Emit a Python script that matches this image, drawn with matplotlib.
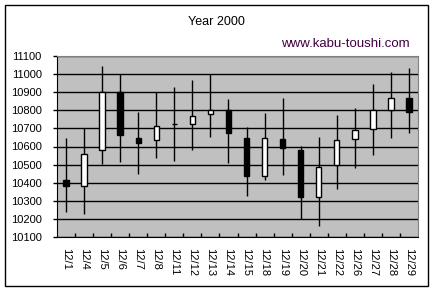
import numpy as np
import matplotlib.pyplot as plt
from matplotlib.patches import Rectangle

# Daily prices, December 2000
dates = ["12/1", "12/4", "12/5", "12/6", "12/7", "12/8", "12/11", "12/12", "12/13", "12/14",
         "12/15", "12/18", "12/19", "12/20", "12/21", "12/22", "12/26", "12/27", "12/28", "12/29"]
opens = [10413, 10380, 10579, 10900, 10647, 10634, 10722, 10726, 10781, 10800,
         10647, 10435, 10641, 10581, 10319, 10500, 10640, 10695, 10800, 10866]
highs = [10645, 10700, 11047, 10999, 10791, 10900, 10929, 10967, 11000, 10862,
         10706, 10785, 10868, 10603, 10653, 10774, 10811, 10945, 11010, 11034]
lows = [10240, 10229, 10505, 10516, 10450, 10538, 10522, 10583, 10653, 10511,
        10328, 10415, 10444, 10199, 10163, 10367, 10483, 10555, 10649, 10676]
closes = [10380, 10557, 10900, 10665, 10621, 10711, 10722, 10769, 10800, 10676,
          10439, 10647, 10590, 10323, 10487, 10634, 10689, 10800, 10866, 10792]
yticks = np.arange(10100, 11101, 100)

W, H = 433, 291
fig = plt.figure(figsize=(W / 100, H / 100), dpi=100)
plt.rcParams['font.family'] = ['Liberation Sans', 'DejaVu Sans']

# outer frame
fig.patches.append(Rectangle((5 / W, 1 - 286 / H), 423 / W, 281 / H, transform=fig.transFigure,
                             fill=False, edgecolor='black', linewidth=1.0))

ax = fig.add_axes([57 / W, 1 - 237 / H, 361 / W, 181 / H])
ax.set_facecolor('#c0c0c0')

x = np.arange(len(dates))
bw = 0.3
for i in x:
    o, h, l, c = opens[i], highs[i], lows[i], closes[i]
    ax.vlines(i, l, h, color='black', linewidth=1.0, zorder=3)
    lo, hi = min(o, c), max(o, c)
    fc = 'black' if c < o else 'white'
    if hi - lo < 1:
        ax.hlines(o, i - bw / 2, i + bw / 2, color='black', linewidth=1.0, zorder=4)
    else:
        ax.add_patch(Rectangle((i - bw / 2, lo), bw, hi - lo, facecolor=fc,
                               edgecolor='black', linewidth=1.0, zorder=4))

ax.set_xlim(-0.5, len(dates) - 0.5)
ax.set_ylim(10100, 11100)
ax.set_yticks(yticks)
ax.set_yticklabels([str(v) for v in yticks], fontsize=8)
ax.yaxis.grid(True, color='black', linewidth=1.0)
ax.set_axisbelow(True)

ax.set_xticks(x)
ax.set_xticklabels(dates, rotation=-90, fontsize=8, va='top', ha='center')
ax.set_xticks(np.arange(0.5, len(dates) - 1, 1), minor=True)
ax.tick_params(axis='x', which='major', length=0, pad=8)
ax.tick_params(axis='x', which='minor', direction='in', length=3, width=1)
ax.tick_params(axis='y', direction='out', length=3, width=1, pad=8)

for s in ['top', 'right']:
    ax.spines[s].set_color('#808080')
for s in ['left', 'bottom']:
    ax.spines[s].set_color('black')

fig.text(216 / W, 1 - 22 / H, "Year 2000", ha='center', va='center', fontsize=9)
fig.text(410 / W, 1 - 44 / H, "www.kabu-toushi.com", ha='right', va='center',
         fontsize=9.5, color='#400040')

fig.savefig('out.png', dpi=100)
